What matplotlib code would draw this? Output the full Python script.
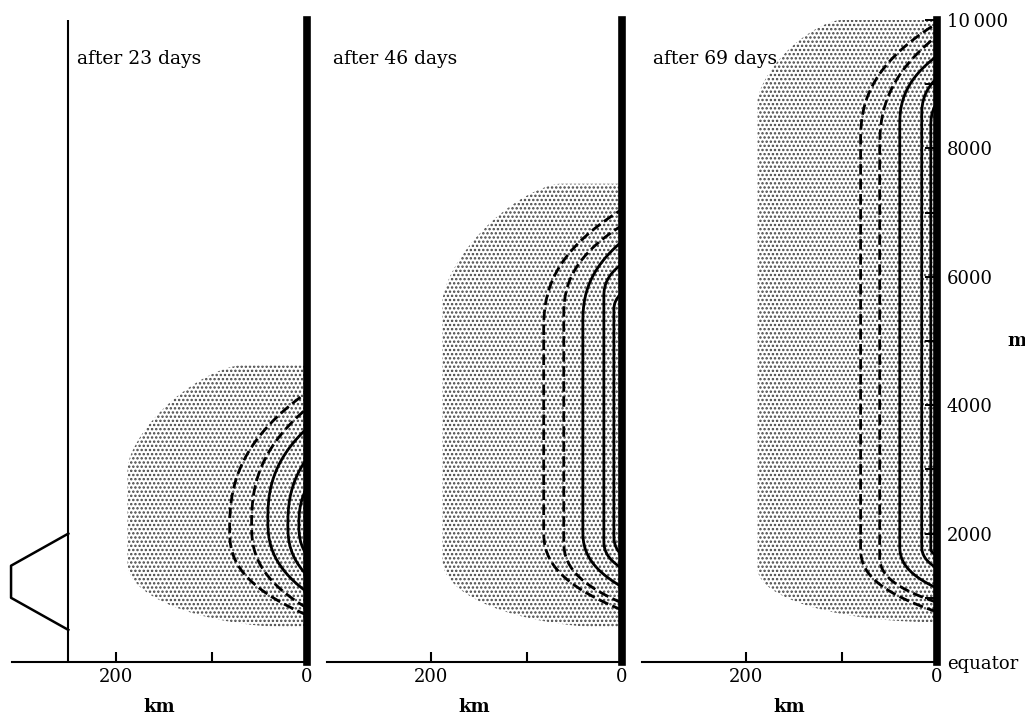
import numpy as np
import matplotlib.pyplot as plt
from matplotlib.patches import Polygon

plt.rcParams['font.family'] = 'DejaVu Serif'
plt.rcParams['hatch.linewidth'] = 1.15

days = [23, 46, 69]

# shaded region (km, m): height of the flat top, km where the top starts to bend,
# left edge, heights where the left edge starts and ends, bottom height
shade_top = [4620, 7450, 10000]
shade_top_x = [70, 65, 101]
shade_left = [188, 188, 188]
shade_left_hi = [3030, 5630, 8740]
shade_left_lo = [1540, 1590, 1460]
shade_bottom = [530, 530, 620]

# isolines: width (km), height where they leave the wall (m), lower bend,
# upper bend, height where they rejoin the wall
styles = ['--', '--', '-', '-', '-']

c23_width = [81, 58, 41, 20, 8.5]
c23_bottom = [730, 840, 1090, 1350, 1660]
c23_low = [2050, 2130, 2210, 2130, 2130]
c23_high = [2050, 2130, 2210, 2130, 2130]
c23_top = [4200, 3950, 3640, 3170, 2720]

c46_width = [82, 61, 41, 19, 8.5]
c46_bottom = [810, 920, 1170, 1460, 1660]
c46_low = [2050, 1900, 2050, 1900, 1975]
c46_high = [5160, 5370, 5270, 5680, 5470]
c46_top = [7050, 6800, 6550, 6200, 5750]

c69_width = [80, 60, 39, 16, 6.5]
c69_bottom = [780, 930, 1150, 1460, 1660]
c69_low = [1790, 1660, 1820, 1820, 1770]
c69_high = [8100, 7990, 8350, 8510, 8350]
c69_top = [9950, 9750, 9440, 9100, 8710]

contours = [
    (c23_width, c23_bottom, c23_low, c23_high, c23_top),
    (c46_width, c46_bottom, c46_low, c46_high, c46_top),
    (c69_width, c69_bottom, c69_low, c69_high, c69_top),
]

# forcing profile at the western edge of the first panel
profile_km = [250, 310, 310, 250]
profile_m = [2000, 1500, 1000, 500]

km_ticks = [200, 100, 0]
km_labels = ['200', '', '0']
m_ticks = [0, 2000, 4000, 6000, 8000, 10000]
m_labels = ['equator', '2000', '4000', '6000', '8000', '10\u2009000']


def isoline(w, z0, z1, z2, z3, q=2.5, n=60):
    s = np.linspace(0, 1, n)
    xb = w * (1 - s[::-1] ** q)
    zb = z1 - (z1 - z0) * s[::-1]
    xt = w * (1 - s ** q)
    zt = z2 + (z3 - z2) * s
    return np.r_[xb, xt], np.r_[zb, zt]


def shade_outline(top, top_x, left, left_hi, left_lo, bottom, p=1.5):
    t = np.linspace(np.pi / 2, 0, 60)
    xa = top_x + (left - top_x) * np.cos(t) ** (2 / p)
    za = left_hi + (top - left_hi) * np.sin(t) ** (2 / p)
    t2 = np.linspace(0, np.pi / 2, 60)
    xb = left * np.cos(t2)
    zb = left_lo - (left_lo - bottom) * np.sin(t2)
    x = np.r_[0, xa, xb, 0]
    z = np.r_[top, za, zb, bottom]
    return np.column_stack([x, z])


fig = plt.figure(figsize=(10.25, 7.15), dpi=100)
W, H = 1025, 715
lefts = [12, 327, 642]
axes = []
for i in range(3):
    ax = fig.add_axes([lefts[i] / W, 53 / H, 295 / W, 642 / H])
    axes.append(ax)
    ax.set_xlim(309, 0)
    ax.set_ylim(0, 10000)

    ax.add_patch(Polygon(shade_outline(shade_top[i], shade_top_x[i], shade_left[i],
                                       shade_left_hi[i], shade_left_lo[i], shade_bottom[i]),
                         closed=True, facecolor='white', edgecolor='#454545',
                         hatch='....', lw=0, zorder=1))

    widths, bottoms, lows, highs, tops = contours[i]
    for j in range(len(widths)):
        x, z = isoline(widths[j], bottoms[j], lows[j], highs[j], tops[j])
        if styles[j] == '--':
            ax.plot(x, z, color='black', lw=2.0, ls=(0, (3.8, 1.6)), zorder=3)
        else:
            ax.plot(x, z, color='black', lw=2.0, zorder=3)

    for s in ['top', 'left']:
        ax.spines[s].set_visible(False)
    ax.spines['bottom'].set_linewidth(1.5)
    ax.spines['right'].set_linewidth(5.5)
    ax.spines['right'].set_zorder(4)

    ax.set_xticks(km_ticks)
    ax.set_xticklabels(km_labels)
    ax.tick_params(axis='x', direction='in', length=7, width=1.5, pad=4, labelsize=13)
    ax.set_xlabel('km', fontsize=13, fontweight='bold', labelpad=9)
    ax.set_facecolor('none')

    ax.text([241, 303, 298][i], 9400, f'after {days[i]} days', fontsize=13.5,
            ha='left', va='center')

for ax in axes[:2]:
    ax.set_yticks([])

ax3 = axes[2]
ax3.yaxis.tick_right()
ax3.set_yticks(m_ticks)
ax3.set_yticklabels(m_labels)
ax3.set_yticks(np.arange(1000, 10000, 2000), minor=True)
ax3.tick_params(axis='y', which='both', direction='in', length=9, width=1.4,
                pad=7, labelsize=13)
ax3.text(1.27, 0.5, 'm', transform=ax3.transAxes, fontsize=13, fontweight='bold',
         ha='center', va='center')

ax1 = axes[0]
ax1.axvline(250, color='black', lw=1.5, zorder=3)
ax1.plot(profile_km, profile_m, color='black', lw=1.8, clip_on=False, zorder=3)

fig.savefig('out.png', dpi=100)
